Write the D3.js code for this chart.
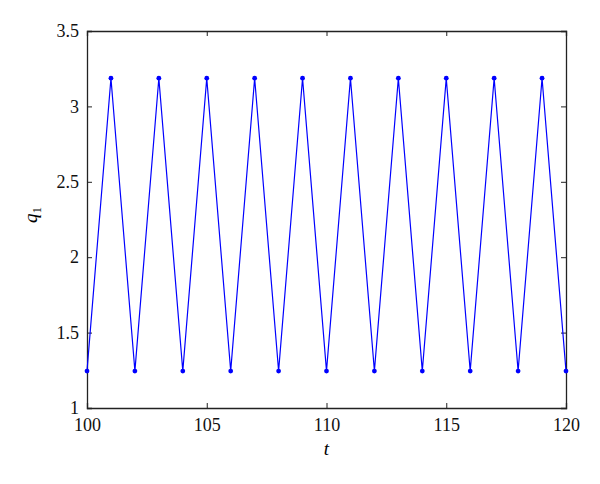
<!DOCTYPE html>
<html>
<head>
<meta charset="utf-8">
<script src="https://cdn.jsdelivr.net/npm/d3@7"></script>
<style>
  body { margin: 0; background: #fff; }
</style>
</head>
<body>
<svg id="chart" width="600" height="484"></svg>
<script>
// time steps and the q1 values
const tValues = [100, 101, 102, 103, 104, 105, 106, 107, 108, 109, 110,
                 111, 112, 113, 114, 115, 116, 117, 118, 119, 120];
const q1Values = [1.245, 3.187, 1.245, 3.187, 1.245, 3.187, 1.245, 3.187, 1.245, 3.187, 1.245,
                  3.187, 1.245, 3.187, 1.245, 3.187, 1.245, 3.187, 1.245, 3.187, 1.245];
const xTicks = [100, 105, 110, 115, 120];
const yTicks = [1, 1.5, 2, 2.5, 3, 3.5];

const serif = "'Liberation Serif', 'Times New Roman', 'DejaVu Serif', serif";

const data = tValues.map((t, i) => ({ t: t, q: q1Values[i] }));

const svg = d3.select("#chart").attr("font-family", serif);
const plotLeft = 87, plotRight = 566, plotTop = 31, plotBottom = 408;

const x = d3.scaleLinear().domain([100, 120]).range([plotLeft, plotRight]);
const y = d3.scaleLinear().domain([1, 3.5]).range([plotBottom, plotTop]);

const tickLen = 5;

// axes (ticks pointing inward, mirrored on the opposite sides)
const gx = svg.append("g")
    .attr("transform", `translate(0,${plotBottom})`)
    .call(d3.axisBottom(x).tickValues(xTicks).tickSize(-tickLen).tickPadding(10).tickFormat(d3.format("d")));
const gxTop = svg.append("g")
    .attr("transform", `translate(0,${plotTop})`)
    .call(d3.axisTop(x).tickValues(xTicks).tickSize(-tickLen).tickFormat(""));
const gy = svg.append("g")
    .attr("transform", `translate(${plotLeft},0)`)
    .call(d3.axisLeft(y).tickValues(yTicks).tickSize(-tickLen).tickPadding(8).tickFormat(d => d));
const gyRight = svg.append("g")
    .attr("transform", `translate(${plotRight},0)`)
    .call(d3.axisRight(y).tickValues(yTicks).tickSize(-tickLen).tickFormat(""));

[gx, gxTop, gy, gyRight].forEach(g => {
  g.attr("font-family", serif).attr("font-size", 18);
  g.select(".domain").attr("stroke", "#222").attr("stroke-width", 1.3);
  g.selectAll(".tick line").attr("stroke", "#222");
  g.selectAll(".tick text").attr("fill", "#111");
});

// line and markers
svg.append("path")
    .datum(data)
    .attr("fill", "none")
    .attr("stroke", "#0000ff")
    .attr("stroke-width", 1.2)
    .attr("d", d3.line().x(d => x(d.t)).y(d => y(d.q)));

svg.append("g")
  .selectAll("circle")
  .data(data)
  .join("circle")
    .attr("cx", d => x(d.t))
    .attr("cy", d => y(d.q))
    .attr("r", 2.4)
    .attr("fill", "#0000ff");

// axis labels
svg.append("text")
    .attr("x", (plotLeft + plotRight) / 2)
    .attr("y", 455)
    .attr("text-anchor", "middle")
    .attr("font-size", 19)
    .attr("font-style", "italic")
    .text("t");

const yl = svg.append("text")
    .attr("transform", `translate(37,215) rotate(-90)`)
    .attr("text-anchor", "middle")
    .attr("font-size", 19);
yl.append("tspan").attr("font-style", "italic").text("q");
yl.append("tspan").attr("font-size", 13).attr("dy", 4).text("1");
</script>
</body>
</html>
